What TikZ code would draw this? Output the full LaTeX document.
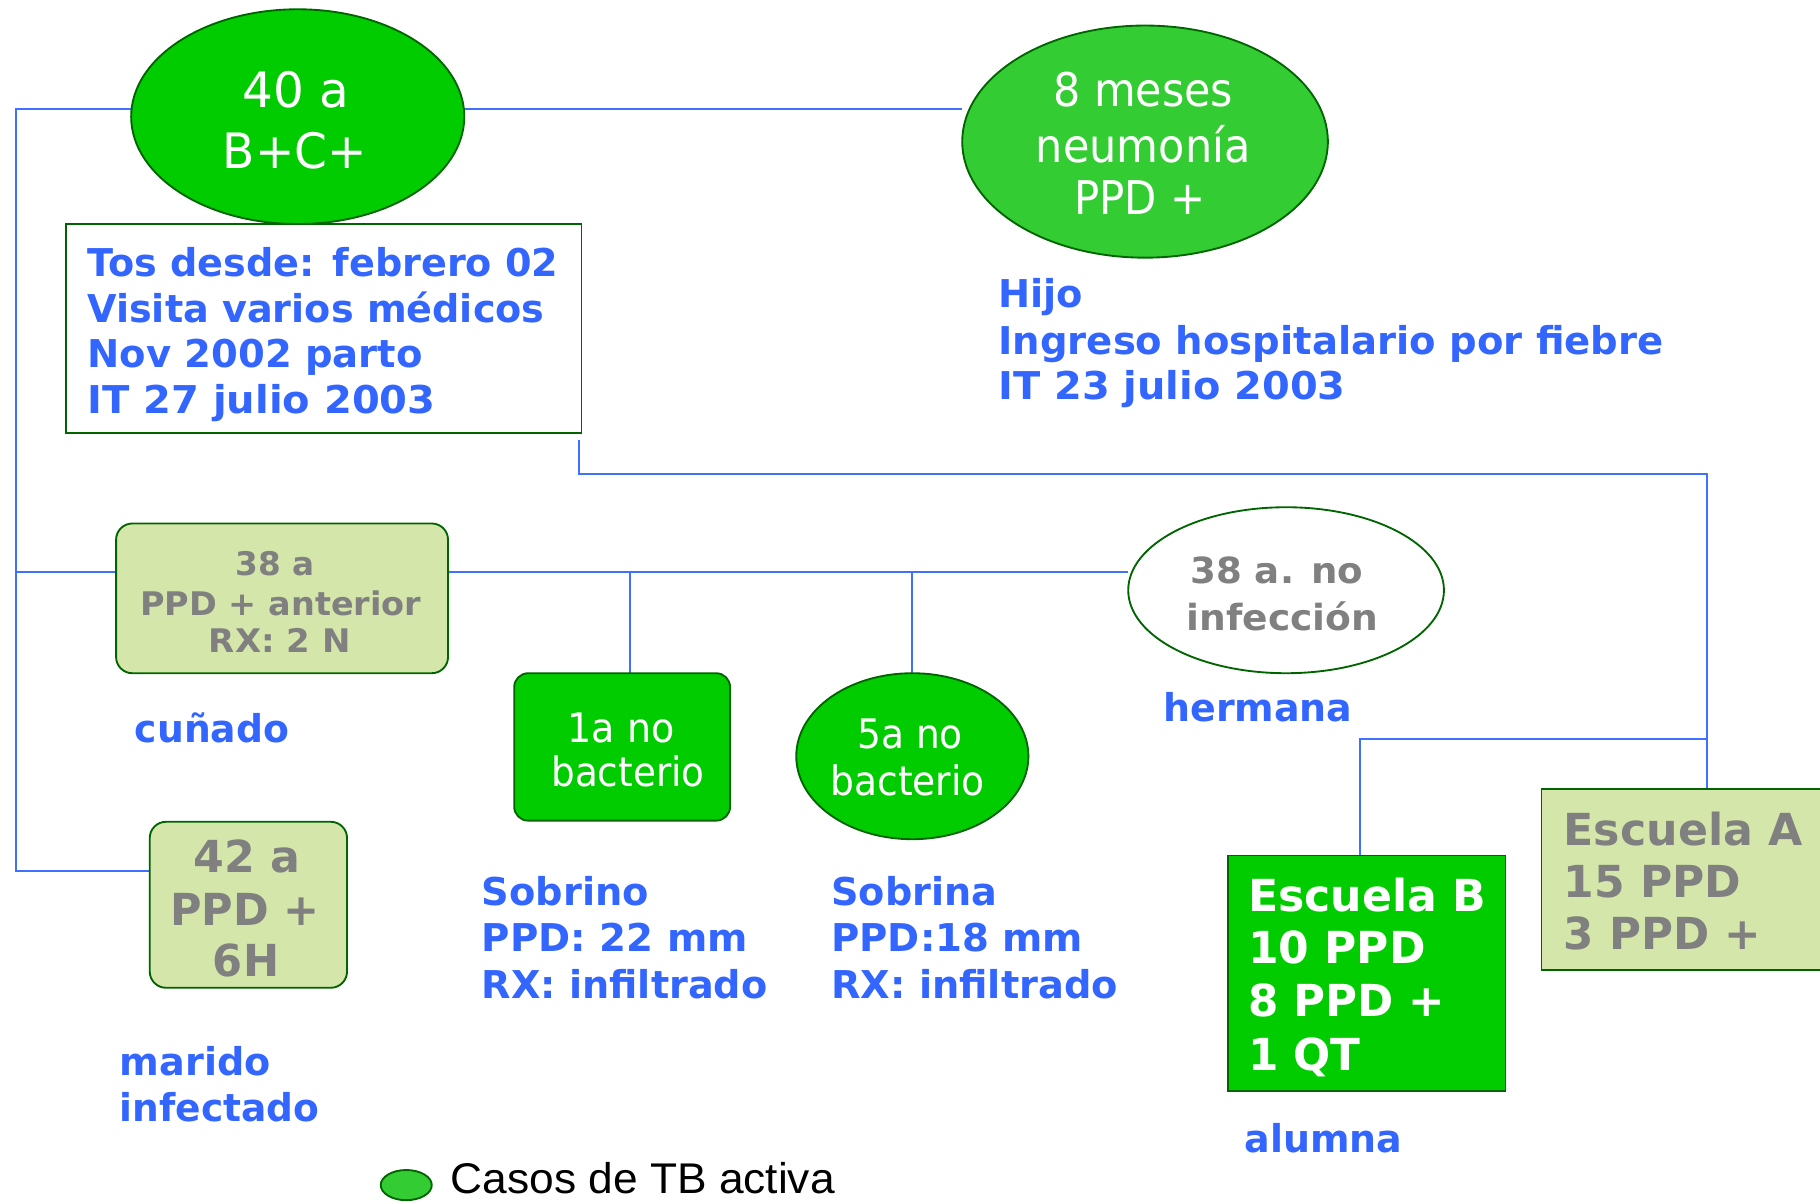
\documentclass[tikz,border=0pt]{standalone}
\usepackage{fontspec}
\setmainfont{DejaVu Sans}
\newfontfamily\legfont{Liberation Sans}
\usepackage{graphicx}
\usetikzlibrary{shapes.geometric}
\pgfdeclarelayer{background}
\pgfsetlayers{background,main}
\newcommand{\fw}[2]{\resizebox{#1pt}{\height}{#2}}
\definecolor{tblue}{RGB}{51,102,255}
\definecolor{lblue}{RGB}{64,112,255}
\definecolor{gA}{RGB}{0,204,0}
\definecolor{gB}{RGB}{51,204,51}
\definecolor{olive}{RGB}{212,230,170}
\definecolor{dgreen}{RGB}{0,100,0}
\definecolor{tgray}{RGB}{128,128,128}
\begin{document}
\begin{tikzpicture}[x=1pt,y=-1pt,
  conn/.style={draw=lblue,line width=1.8pt},
  shp/.style={draw=dgreen,line width=1.6pt,inner sep=0pt,outer sep=0pt},
  ell/.style={shp,ellipse},
  rbox/.style={shp,rectangle,rounded corners=14pt},
  sbox/.style={shp,rectangle},
  lw/.style={inner sep=0pt,anchor=base west},
  lc/.style={inner sep=0pt,anchor=base},
  bluelab/.style={lw,text=tblue,font=\bfseries\fontsize{33}{40}\selectfont},
  whreg/.style={lc,text=white,font=\fontsize{42}{50}\selectfont},
  whsm/.style={lc,text=white,font=\fontsize{35}{42}\selectfont},
  grsm/.style={lc,text=tgray,font=\bfseries\fontsize{28}{32}\selectfont},
  grmd/.style={lc,text=tgray,font=\bfseries\fontsize{31}{36}\selectfont},
  grbig/.style={text=tgray,font=\bfseries\fontsize{38}{44}\selectfont},
  whbig/.style={lw,text=white,font=\bfseries\fontsize{38}{44}\selectfont}
]
\useasboundingbox (0,0) rectangle (1568,1036);

% ---------- shapes ----------
\path
  (256.5,100.5) node[ell,fill=gA,minimum width=287pt,minimum height=185pt] (A) {}
  (986.5,122) node[ell,fill=gB,minimum width=315pt,minimum height=200pt] (B) {}
  (243,515.5) node[rbox,fill=olive,minimum width=286pt,minimum height=129pt] (C) {}
  (1108,508.5) node[ell,fill=white,minimum width=272pt,minimum height=143pt] (H) {}
  (536,643.5) node[rbox,fill=gA,rounded corners=12pt,minimum width=186pt,minimum height=127pt] (S1) {}
  (786,651.5) node[ell,fill=gA,minimum width=200pt,minimum height=143pt] (S2) {}
  (214,779.5) node[rbox,fill=olive,minimum width=170pt,minimum height=143pt] (M) {}
  (1177.5,838.5) node[sbox,fill=gA,minimum width=239pt,minimum height=203pt] (EB) {}
  (1464,758) node[sbox,fill=olive,minimum width=272pt,minimum height=156pt] (EA) {}
  (279,283) node[sbox,fill=white,minimum width=444pt,minimum height=180pt] (T) {}
  (350,1021) node[ell,fill=gB,minimum width=44pt,minimum height=26pt] (LG) {};

% ---------- connectors (behind shapes) ----------
\coordinate (lt) at (14,94);
\coordinate (lc) at (14,493);
\coordinate (lb) at (14,750);
\coordinate (r1) at (499,379);
\coordinate (r2) at (499,408);
\coordinate (r3) at (1471,408);
\coordinate (r4) at (1471,637);
\coordinate (r5) at (1172,637);
\coordinate (m1) at (543,493);
\coordinate (m2) at (786,493);
\begin{pgfonlayer}{background}
  \draw[conn] (A.west |- lt) -- (lt) -- (lb) -- (M.west |- lb);
  \draw[conn] (lc) -- (C.west |- lc);
  \draw[conn] (A.east |- lt) -- (B.west |- lt);
  \draw[conn] (C.east |- lc) -- (H.west |- lc);
  \draw[conn] (m1) -- (m1 |- S1.north);
  \draw[conn] (m2) -- (S2.north);
  \draw[conn] (r1) -- (r2) -- (r3) -- (r3 |- EA.north);
  \draw[conn] (r4) -- (r5) -- (r5 |- EB.north);
\end{pgfonlayer}

% ---------- texts in shapes ----------
\node[whreg] (tA1) at (255,93) {\fw{92}{40 a}};
\node[whreg] (tA2) at (254,145) {\fw{124}{B+C+}};
\node[whreg,font=\fontsize{40}{48}\selectfont] (tB1) at (985,92) {\fw{155}{8 meses}};
\node[whreg,font=\fontsize{40}{48}\selectfont] (tB2) at (985,140) {\fw{185}{neumonía}};
\node[whreg,font=\fontsize{40}{48}\selectfont] (tB3) at (982,185) {\fw{113}{PPD +}};
\node[grsm] (tC1) at (237,496) {\fw{68}{38 a}};
\node[grsm] (tC2) at (242,530) {\fw{242}{PPD + anterior}};
\node[grsm] (tC3) at (241,562) {\fw{122}{RX: 2 N}};
\node[grmd] (tH1) at (1100,503) {\fw{149}{38 a. no}};
\node[grmd] (tH2) at (1105,543) {\fw{165}{infección}};
\node[whsm] (tS11) at (535,640) {\fw{92}{1a no}};
\node[whsm] (tS12) at (541,678) {\fw{132}{bacterio}};
\node[whsm] (tS21) at (784,645) {\fw{91}{5a no}};
\node[whsm] (tS22) at (782,685) {\fw{133}{bacterio}};
\node[grbig,lc] (tM1) at (213,752) {\fw{92}{42 a}};
\node[grbig,lc] (tM2) at (211,797) {\fw{129}{PPD +}};
\node[grbig,lc] (tM3) at (212,841) {\fw{57}{6H}};
\node[whbig] (tEB1) at (1075,785) {\fw{205}{Escuela B}};
\node[whbig] (tEB2) at (1075,830) {\fw{153}{10 PPD}};
\node[whbig] (tEB3) at (1075,876) {\fw{170}{8 PPD +}};
\node[whbig] (tEB4) at (1075,922) {\fw{97}{1 QT}};
\node[grbig,lw] (tEA1) at (1347,728) {\fw{206}{Escuela A}};
\node[grbig,lw] (tEA2) at (1347,773) {\fw{153}{15 PPD}};
\node[grbig,lw] (tEA3) at (1347,818) {\fw{170}{3 PPD +}};

% ---------- blue labels ----------
\node[bluelab] (tT1) at (75,238) {\fw{406}{Tos desde: febrero 02}};
\node[bluelab] (tT2) at (75,278) {\fw{394}{Visita varios médicos}};
\node[bluelab] (tT3) at (75,317) {\fw{289}{Nov 2002 parto}};
\node[bluelab] (tT4) at (75,356) {\fw{300}{IT 27 julio 2003}};
\node[bluelab] (tJ1) at (860,265) {\fw{73}{Hijo}};
\node[bluelab] (tJ2) at (860,305) {\fw{573}{Ingreso hospitalario por fiebre}};
\node[bluelab] (tJ3) at (860,344) {\fw{299}{IT 23 julio 2003}};
\node[bluelab] (tCu) at (116,640) {\fw{133}{cuñado}};
\node[bluelab] (tMa1) at (103,927) {\fw{130}{marido}};
\node[bluelab] (tMa2) at (103,966) {\fw{172}{infectado}};
\node[bluelab] (tSo1) at (415,780) {\fw{144}{Sobrino}};
\node[bluelab] (tSo2) at (415,820) {\fw{229}{PPD: 22 mm}};
\node[bluelab] (tSo3) at (415,860) {\fw{246}{RX: infiltrado}};
\node[bluelab] (tSa1) at (716,780) {\fw{143}{Sobrina}};
\node[bluelab] (tSa2) at (716,820) {\fw{217}{PPD:18 mm}};
\node[bluelab] (tSa3) at (716,860) {\fw{247}{RX: infiltrado}};
\node[bluelab] (tHe) at (1002,622) {\fw{163}{hermana}};
\node[bluelab] (tAl) at (1072,993) {\fw{136}{alumna}};

% ---------- legend ----------
\node[lw,font=\legfont\fontsize{37}{44}\selectfont,text=black] (tLg) at (388,1028) {\fw{331}{Casos de TB activa}};
\end{tikzpicture}
\end{document}
